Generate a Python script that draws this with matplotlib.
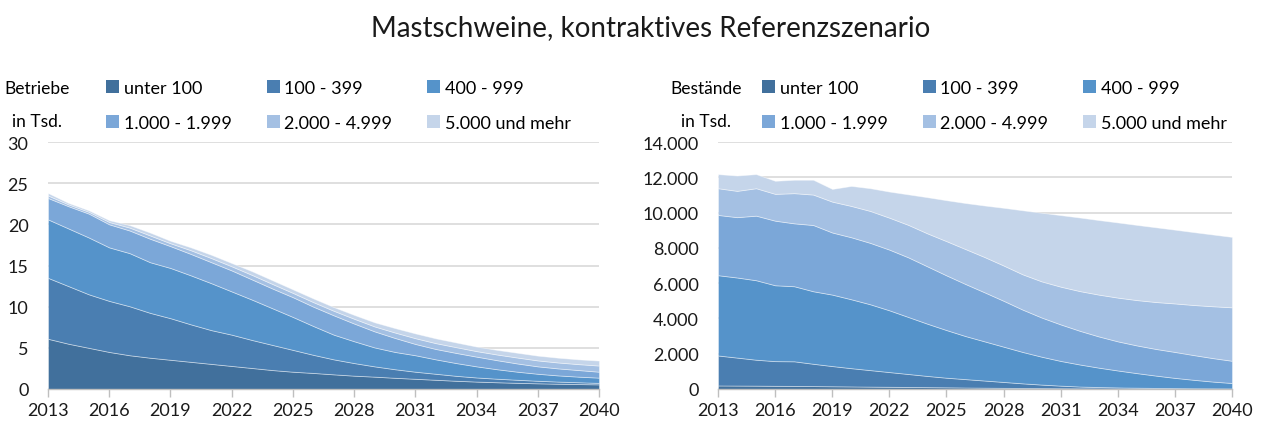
import matplotlib
matplotlib.use("Agg")
import matplotlib.pyplot as plt
from matplotlib.ticker import FuncFormatter, FixedLocator
from matplotlib.patches import Patch

plt.rcParams['font.family'] = ['Lato', 'DejaVu Sans']

years = list(range(2013, 2041))
categories = ["unter 100", "100 - 399", "400 - 999",
              "1.000 - 1.999", "2.000 - 4.999", "5.000 und mehr"]
colors = ["#41709C", "#4A7EB1", "#5593CA", "#7BA7D8", "#A4C0E3", "#C5D5EA"]

# Betriebe in Tsd.
betriebe_u100 = [6.1, 5.5, 5.0, 4.5, 4.1, 3.8, 3.55, 3.3, 3.05, 2.8, 2.55, 2.3, 2.1, 1.95,
                 1.78, 1.62, 1.5, 1.36, 1.24, 1.12, 1.0, 0.9, 0.82, 0.75, 0.69, 0.64, 0.6, 0.56]
betriebe_100_399 = [7.4, 7.0, 6.5, 6.2, 5.95, 5.45, 5.05, 4.55, 4.1, 3.8, 3.4, 3.05, 2.65, 2.2,
                    1.82, 1.53, 1.25, 1.04, 0.86, 0.73, 0.6, 0.5, 0.43, 0.37, 0.31, 0.26, 0.22, 0.18]
betriebe_400_999 = [7.1, 7.0, 6.9, 6.5, 6.45, 6.15, 6.1, 5.95, 5.7, 5.25, 4.9, 4.45, 4.0, 3.5,
                    3.0, 2.65, 2.3, 2.1, 2.0, 1.75, 1.55, 1.35, 1.15, 0.98, 0.85, 0.75, 0.68, 0.64]
betriebe_1000_1999 = [2.6, 2.7, 2.9, 2.8, 2.75, 2.85, 2.65, 2.6, 2.55, 2.55, 2.45, 2.4, 2.4, 2.35,
                      2.35, 2.15, 1.95, 1.7, 1.37, 1.26, 1.23, 1.18, 1.1, 1.0, 0.9, 0.85, 0.8, 0.72]
betriebe_2000_4999 = [0.3, 0.22, 0.22, 0.28, 0.35, 0.4, 0.35, 0.45, 0.5, 0.5, 0.55, 0.55, 0.52, 0.55,
                      0.55, 0.58, 0.6, 0.66, 0.7, 0.71, 0.7, 0.67, 0.69, 0.72, 0.72, 0.72, 0.72, 0.75]
betriebe_5000 = [0.3, 0.18, 0.18, 0.22, 0.3, 0.35, 0.3, 0.35, 0.4, 0.4, 0.45, 0.45, 0.43, 0.45,
                 0.45, 0.47, 0.5, 0.54, 0.58, 0.58, 0.57, 0.55, 0.56, 0.58, 0.58, 0.58, 0.58, 0.6]

# Bestände in Tsd.
bestand_u100 = [200, 195, 190, 180, 175, 165, 155, 145, 135, 125, 115, 105, 95, 85,
                75, 65, 58, 50, 42, 35, 30, 25, 20, 17, 14, 12, 10, 8]
bestand_100_399 = [1700, 1585, 1470, 1400, 1395, 1265, 1145, 1035, 935, 835, 735, 635, 545, 475,
                   405, 335, 262, 200, 148, 105, 80, 65, 55, 43, 36, 28, 25, 22]
bestand_400_999 = [4550, 4540, 4505, 4300, 4255, 4110, 4050, 3905, 3730, 3500, 3230, 2960, 2700, 2440,
                   2220, 2000, 1780, 1580, 1400, 1250, 1100, 960, 825, 700, 580, 480, 385, 310]
bestand_1000_1999 = [3415, 3420, 3660, 3660, 3565, 3755, 3520, 3515, 3480, 3440, 3380, 3250, 3100, 2950,
                     2780, 2600, 2400, 2220, 2070, 1910, 1770, 1650, 1570, 1510, 1470, 1400, 1330, 1260]
bestand_2000_4999 = [1515, 1490, 1555, 1520, 1710, 1725, 1750, 1775, 1810, 1810, 1840, 1870, 1940, 1980,
                     2000, 2000, 2000, 2050, 2140, 2250, 2370, 2480, 2570, 2660, 2750, 2840, 2940, 3030]
bestand_5000 = [800, 870, 800, 740, 760, 840, 720, 1135, 1290, 1480, 1730, 2050, 2320, 2610,
                2920, 3270, 3630, 3890, 4055, 4170, 4225, 4260, 4260, 4235, 4180, 4130, 4065, 3990]

x_ticks = list(range(2013, 2041, 3))
title = "Mastschweine, kontraktives Referenzszenario"

W, H = 1270, 431
fig = plt.figure(figsize=(W / 100, H / 100), dpi=100)

FS = 13
GRID = "#D9D9D9"
AXC = "#BFBFBF"


def px(x0, y0, x1, y1):
    return [x0 / W, 1 - y1 / H, (x1 - x0) / W, (y1 - y0) / H]


def style(ax, ymax, ystep, fmt):
    ax.set_xlim(2013, 2040)
    ax.set_ylim(0, ymax)
    ax.yaxis.set_major_locator(FixedLocator(list(range(0, ymax + 1, ystep))))
    ax.yaxis.set_major_formatter(FuncFormatter(fmt))
    ax.xaxis.set_major_locator(FixedLocator(x_ticks))
    ax.grid(axis="y", color=GRID, linewidth=1.2)
    ax.set_axisbelow(True)
    for s in ["top", "right", "left"]:
        ax.spines[s].set_visible(False)
    ax.spines["bottom"].set_color(AXC)
    ax.spines["bottom"].set_linewidth(1.0)
    ax.spines["bottom"].set_zorder(5)
    ax.tick_params(axis="y", length=0, labelsize=FS, pad=14, labelcolor="#1a1a1a")
    ax.tick_params(axis="x", length=6, width=1.0, color=AXC, direction="out",
                   labelsize=FS, pad=3, labelcolor="#1a1a1a")


def legend(x, y):
    handles = [Patch(facecolor=c, edgecolor="none") for c in colors]
    order = [0, 3, 1, 4, 2, 5]
    fig.legend([handles[i] for i in order], [categories[i] for i in order],
               loc="upper left", bbox_to_anchor=(x / W, 1 - y / H), ncol=3,
               frameon=False, fontsize=FS, handlelength=0.72, handleheight=0.72,
               handletextpad=0.25, columnspacing=1.95, labelspacing=1.05,
               borderpad=0, borderaxespad=0)


# Left chart
ax1 = fig.add_axes(px(48, 143, 599, 390))
ax1.stackplot(years, betriebe_u100, betriebe_100_399, betriebe_400_999,
              betriebe_1000_1999, betriebe_2000_4999, betriebe_5000,
              colors=colors, edgecolor=(1, 1, 1, 0.45), linewidth=0.6)
style(ax1, 30, 5, lambda v, p: f"{v:.0f}")
legend(106, 81)
fig.text(37 / W, 1 - 89 / H, "Betriebe", ha="center", va="center", fontsize=12.5)
fig.text(37 / W, 1 - 122 / H, "in Tsd.", ha="center", va="center", fontsize=12.5)

# Right chart
ax2 = fig.add_axes(px(718, 143, 1232, 390))
ax2.stackplot(years, bestand_u100, bestand_100_399, bestand_400_999,
              bestand_1000_1999, bestand_2000_4999, bestand_5000,
              colors=colors, edgecolor=(1, 1, 1, 0.45), linewidth=0.6)
style(ax2, 14000, 2000, lambda v, p: f"{v:,.0f}".replace(",", "."))
legend(762, 81)
fig.text(706 / W, 1 - 89 / H, "Bestände", ha="center", va="center", fontsize=12.5)
fig.text(706 / W, 1 - 122 / H, "in Tsd.", ha="center", va="center", fontsize=12.5)

fig.text(651 / W, 1 - 28 / H, title, ha="center", va="center", fontsize=20, color="#1a1a1a")

fig.savefig("out.png", dpi=100)
